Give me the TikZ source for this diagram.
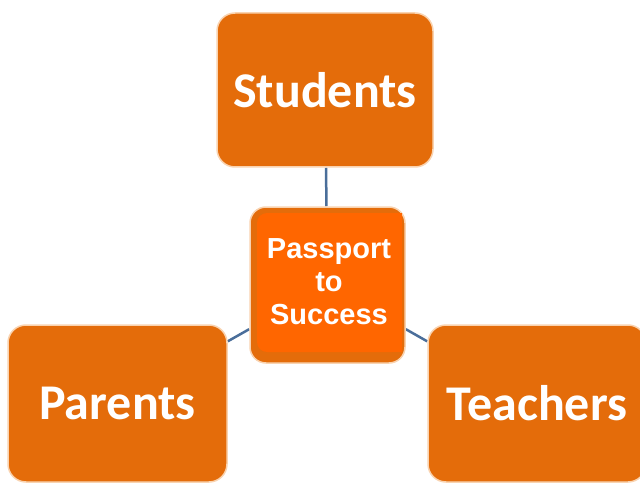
\documentclass[tikz,border=0pt]{standalone}
\usepackage{fontspec}
\newfontfamily\calib{Carlito}
\newfontfamily\arialf{Liberation Sans}
\usetikzlibrary{backgrounds}
\definecolor{boxor}{HTML}{E46C0A}
\definecolor{brightor}{HTML}{FF6600}
\definecolor{edgeor}{HTML}{F9D3B0}
\definecolor{linkblue}{HTML}{4A6E9A}
\begin{document}
\begin{tikzpicture}[x=1pt,y=-1pt,
  rolebox/.style={rectangle, rounded corners=18pt, fill=boxor, draw=edgeor,
    line width=1.5pt, text=white, inner sep=0pt,
    font=\calib\bfseries\fontsize{50}{60}\selectfont},
  link/.style={draw=linkblue, line width=2.5pt}]
\useasboundingbox (0,0) rectangle (640,484);
\clip (0,0) rectangle (640,484);
\node[rolebox, minimum width=216pt, minimum height=154pt] (students) at (325,90) {Students};
\node[rolebox, minimum width=219pt, minimum height=157pt] (parents) at (117.5,403.5) {Parents};
\node[rolebox, minimum width=218pt, minimum height=157pt] (teachers) at (537,403.5) {Teachers};
\node[rectangle, rounded corners=16pt, fill=boxor, draw=edgeor, line width=1.5pt,
  minimum width=155pt, minimum height=156pt, inner sep=0pt] (ctrbox) at (327.5,285) {};
\fill[brightor, rounded corners=10pt] (257,213) rectangle (402,352);
\fill[brightor] (330,213) rectangle (402,352);
\node[text=white, align=center, inner sep=0pt,
  font=\arialf\bfseries\fontsize{29}{33}\selectfont] (ctr) at (329,281.5) {Passport\\to\\Success};
\begin{scope}[on background layer]
\draw[link] (students) -- (ctrbox);
\draw[link] (parents) -- (ctrbox);
\draw[link] (teachers) -- (ctrbox);
\end{scope}
\end{tikzpicture}
\end{document}
